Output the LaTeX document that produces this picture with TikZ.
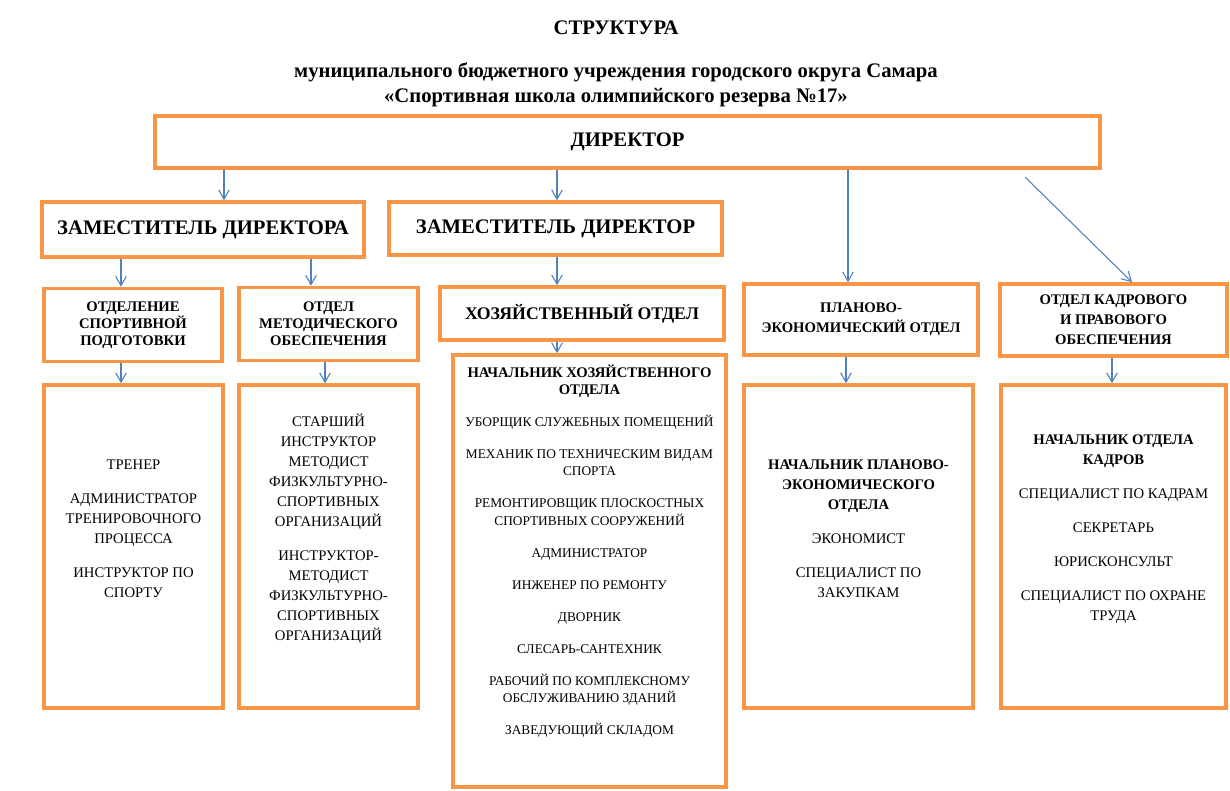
\documentclass[tikz,border=0pt]{standalone}
\usepackage{fontspec}
\setmainfont{Liberation Serif}
\usetikzlibrary{arrows.meta,positioning}
\definecolor{boxorange}{RGB}{247,150,70}
\definecolor{linkblue}{RGB}{79,129,189}
\newcommand{\chief}[1]{{\bfseries\fontsize{11}{15}\selectfont #1}}

\begin{document}
\begin{tikzpicture}[
    x=0.75pt, y=-0.75pt,
    unit/.style 2 args={draw=boxorange, line width=2.7pt, minimum width=#1*0.75pt, minimum height=#2*0.75pt, inner sep=0pt, align=center},
    head/.style={font=\bfseries\fontsize{15.5}{18}\selectfont},
    dept/.style={font=\bfseries\fontsize{11}{12.75}\selectfont},
    dept2/.style={font=\bfseries\fontsize{11}{15}\selectfont},
    staff/.style={align=center, inner sep=0pt, font=\fontsize{11}{15}\selectfont},
    arrow/.style={-{Straight Barb[length=7pt,width=8pt]}, draw=linkblue, line width=0.8pt}
]
\useasboundingbox (0,0) rectangle (1230,790);

\node[head] (title) at (616,28) {СТРУКТУРА};
\node[align=center, font=\bfseries\fontsize{15.5}{18.75}\selectfont] (sub) at (616,85) {муниципального бюджетного учреждения городского округа Самара\\«Спортивная школа олимпийского резерва №17»};

\node[unit={945}{52}, head] (dir) at (627.5,142) {ДИРЕКТОР};
\node[unit={322}{55}, head] (dep1) at (203,229.5) {ЗАМЕСТИТЕЛЬ ДИРЕКТОРА};
\node[unit={333}{53}, head] (dep2) at (555.5,228.5) {ЗАМЕСТИТЕЛЬ ДИРЕКТОР};

\node[unit={178}{73}, dept] (sport) at (133,325) {ОТДЕЛЕНИЕ\\СПОРТИВНОЙ\\ПОДГОТОВКИ};
\node[unit={179}{73}, dept] (metod) at (328.5,324) {ОТДЕЛ\\МЕТОДИЧЕСКОГО\\ОБЕСПЕЧЕНИЯ};
\node[unit={284}{53}, font=\bfseries\fontsize{13.3}{15}\selectfont] (khoz) at (582,313.5) {ХОЗЯЙСТВЕННЫЙ ОТДЕЛ};
\node[unit={234}{71}, dept2] (plan) at (861,319.5) {ПЛАНОВО-\\ЭКОНОМИЧЕСКИЙ ОТДЕЛ};
\node[unit={227}{72}, dept2] (kadr) at (1113.5,320) {ОТДЕЛ КАДРОВОГО\\И ПРАВОВОГО\\ОБЕСПЕЧЕНИЯ};

\node[unit={179}{323}] (sportlist) at (133.5,546.5) {};
\node[unit={179}{323}] (metodlist) at (328.5,546.5) {};
\node[unit={273}{432}] (khozlist) at (589.5,571) {};
\node[unit={229}{323}] (planlist) at (858.5,546.5) {};
\node[unit={225}{323}] (kadrlist) at (1113.5,546.5) {};

\node[staff] (sportstaff) at ([yshift=13pt]sportlist.center) {ТРЕНЕР\\[10.5pt]АДМИНИСТРАТОР\\ТРЕНИРОВОЧНОГО\\ПРОЦЕССА\\[10.5pt]ИНСТРУКТОР ПО\\СПОРТУ};
\node[staff] (metodstaff) at ([yshift=13pt]metodlist.center) {СТАРШИЙ\\ИНСТРУКТОР\\МЕТОДИСТ\\ФИЗКУЛЬТУРНО-\\СПОРТИВНЫХ\\ОРГАНИЗАЦИЙ\\[10.5pt]ИНСТРУКТОР-\\МЕТОДИСТ\\ФИЗКУЛЬТУРНО-\\СПОРТИВНЫХ\\ОРГАНИЗАЦИЙ};
\node[staff, font=\fontsize{10}{13}\selectfont] (khozstaff) at ([yshift=15pt]khozlist.center) {\chief{НАЧАЛЬНИК ХОЗЯЙСТВЕННОГО}\\\chief{ОТДЕЛА}\\[11pt]УБОРЩИК СЛУЖЕБНЫХ ПОМЕЩЕНИЙ\\[11pt]МЕХАНИК ПО ТЕХНИЧЕСКИМ ВИДАМ\\СПОРТА\\[11pt]РЕМОНТИРОВЩИК ПЛОСКОСТНЫХ\\СПОРТИВНЫХ СООРУЖЕНИЙ\\[11pt]АДМИНИСТРАТОР\\[11pt]ИНЖЕНЕР ПО РЕМОНТУ\\[11pt]ДВОРНИК\\[11pt]СЛЕСАРЬ-САНТЕХНИК\\[11pt]РАБОЧИЙ ПО КОМПЛЕКСНОМУ\\ОБСЛУЖИВАНИЮ ЗДАНИЙ\\[11pt]ЗАВЕДУЮЩИЙ СКЛАДОМ};
\node[staff] (planstaff) at ([yshift=13pt]planlist.center) {\textbf{НАЧАЛЬНИК ПЛАНОВО-}\\\textbf{ЭКОНОМИЧЕСКОГО}\\\textbf{ОТДЕЛА}\\[10.5pt]ЭКОНОМИСТ\\[10.5pt]СПЕЦИАЛИСТ ПО\\ЗАКУПКАМ};
\node[staff] (kadrstaff) at ([yshift=13pt]kadrlist.center) {\textbf{НАЧАЛЬНИК ОТДЕЛА}\\\textbf{КАДРОВ}\\[10.5pt]СПЕЦИАЛИСТ ПО КАДРАМ\\[10.5pt]СЕКРЕТАРЬ\\[10.5pt]ЮРИСКОНСУЛЬТ\\[10.5pt]СПЕЦИАЛИСТ ПО ОХРАНЕ\\ТРУДА};

\coordinate (kstart) at (1025,177);

\draw[arrow] (dir.south -| 224,0) -- (dep1.north -| 224,0);
\draw[arrow] (dir.south -| 557,0) -- (dep2.north -| 557,0);
\draw[arrow] (dir.south -| 848,0) -- (plan.north -| 848,0);
\draw[arrow] (kstart) -- (kadr.north -| 1132,0);
\draw[arrow] (dep1.south -| 121,0) -- (sport.north -| 121,0);
\draw[arrow] (dep1.south -| 311,0) -- (metod.north -| 311,0);
\draw[arrow] (dep2.south -| 557,0) -- (khoz.north -| 557,0);
\draw[arrow] (sport.south -| 121,0) -- (sportlist.north -| 121,0);
\draw[arrow] (metod.south -| 325,0) -- (metodlist.north -| 325,0);
\draw[arrow] (khoz.south -| 557,0) -- (khozlist.north -| 557,0);
\draw[arrow] (plan.south -| 846,0) -- (planlist.north -| 846,0);
\draw[arrow] (kadr.south -| 1112,0) -- (kadrlist.north -| 1112,0);
\end{tikzpicture}
\end{document}
